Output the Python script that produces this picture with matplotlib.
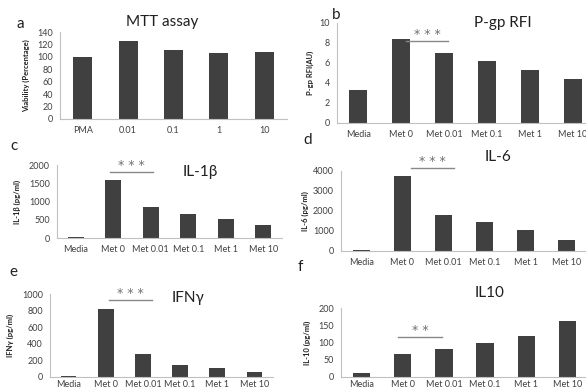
import numpy as np
import matplotlib
matplotlib.use("Agg")
from matplotlib import pyplot as plt

plt.rcParams["font.family"] = ["Lato", "DejaVu Sans"]

# panel data
mtt_labels = ["PMA", "0.01", "0.1", "1", "10"]
mtt_vals = [100, 125, 111, 107, 108]

met_labels = ["Media", "Met 0", "Met 0.01", "Met 0.1", "Met 1", "Met 10"]
pgp_vals = [3.3, 8.4, 7.0, 6.2, 5.3, 4.4]
il1b_vals = [18, 1600, 860, 650, 510, 350]
il6_vals = [40, 3750, 1820, 1430, 1060, 560]
ifng_vals = [16, 822, 278, 145, 113, 55]
il10_vals = [12, 66, 81, 99, 119, 163]

barcol = "#404040"
axcol = "#c0c0c0"
txtcol = "#404040"

fig = plt.figure(figsize=(5.86, 3.91), dpi=100)


def panel(rect, labels, vals, ymax, ystep, ylabel, title, tpos, letter, lpos,
          sig=None, ylab_x=-0.12, xpad=5):
    ax = fig.add_axes(rect)
    x = np.arange(len(vals))
    ax.bar(x, vals, width=0.42, color=barcol, zorder=2)
    ax.set_xlim(-0.5, len(vals) - 0.5)
    ax.set_ylim(0, ymax)
    ax.set_yticks(np.arange(0, ymax + ystep / 2, ystep))
    ax.set_xticks(x)
    ax.set_xticklabels(labels)
    for s in ["top", "right"]:
        ax.spines[s].set_visible(False)
    for s in ["left", "bottom"]:
        ax.spines[s].set_color(axcol)
        ax.spines[s].set_linewidth(0.8)
    ax.tick_params(length=0, labelsize=6.5, colors=txtcol, pad=5)
    ax.tick_params(axis="x", pad=xpad)
    ax.set_ylabel(ylabel, fontsize=5.5, fontweight="bold", color="#202020")
    ax.yaxis.set_label_coords(ylab_x, 0.5)
    fig.text(tpos[0] / 586, 1 - tpos[1] / 391, title, fontsize=11,
             ha="center", va="center", color="#202020")
    fig.text(lpos[0] / 586, 1 - lpos[1] / 391, letter, fontsize=11,
             ha="center", va="center", color="#202020")
    if sig is not None:
        x0, x1, y, stars = sig
        ax.plot([x0, x1], [y, y], color="#888888", lw=1, clip_on=False)
        ax.text((x0 + x1) / 2, y, stars, ha="center", va="bottom",
                fontsize=9, color="#707070", clip_on=False,
                family="DejaVu Sans")
    return ax


panel([60 / 586, 1 - 119 / 391, 227 / 586, 87 / 391], mtt_labels, mtt_vals,
      140, 20, "Viability (Percentage)", "MTT assay", (162, 22), "a", (20, 24),
      ylab_x=-0.13)
panel([337 / 586, 1 - 123 / 391, 257 / 586, 100 / 391], met_labels, pgp_vals,
      10, 2, "P-gp RFI(AU)", "P-gp RFI", (503, 23), "b", (336, 15),
      sig=(1.1, 2.1, 8.2, "* * *"), ylab_x=-0.09)
panel([57 / 586, 1 - 238 / 391, 225 / 586, 73 / 391], met_labels, il1b_vals,
      2000, 500, "IL-1β (pg/ml)", "IL-1β", (200, 172), "c", (14, 146),
      sig=(0.92, 2.05, 1800, "* * *"), ylab_x=-0.16)
panel([341 / 586, 1 - 251 / 391, 246 / 586, 80 / 391], met_labels, il6_vals,
      4000, 1000, "IL-6 (pg/ml)", "IL-6", (498, 157), "d", (308, 140),
      sig=(1.2, 2.25, 4150, "* * *"), ylab_x=-0.13)
panel([50 / 586, 1 - 377 / 391, 223 / 586, 83 / 391], met_labels, ifng_vals,
      1000, 200, "IFNγ (pg/ml)", "IFNγ", (188, 298), "e", (13, 272),
      sig=(1.08, 2.24, 925, "* * *"), ylab_x=-0.16, xpad=2)
panel([341 / 586, 1 - 377 / 391, 247 / 586, 69 / 391], met_labels, il10_vals,
      200, 50, "IL-10 (pg/ml)", "IL10", (490, 293), "f", (300, 267),
      sig=(0.88, 1.95, 116, "* *"), ylab_x=-0.12, xpad=2)

plt.savefig("out.png", dpi=100)
